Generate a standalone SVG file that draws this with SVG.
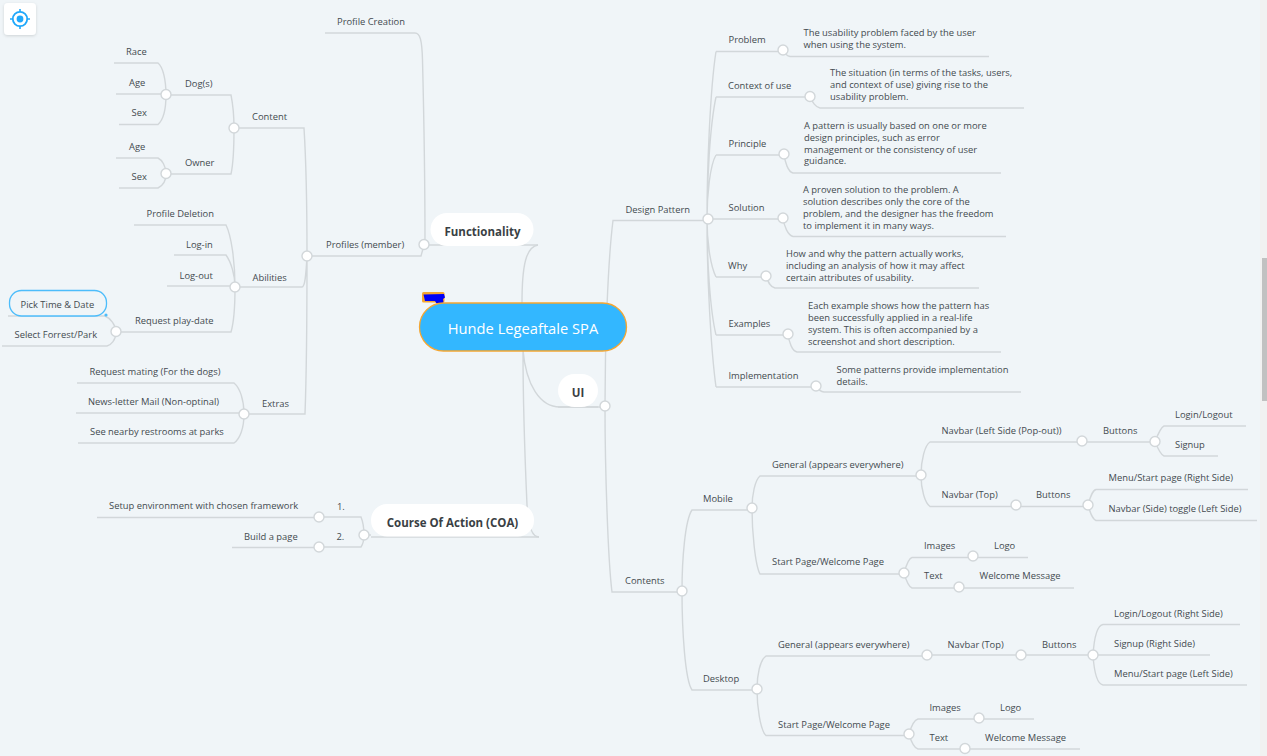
<svg xmlns="http://www.w3.org/2000/svg" width="1267" height="756" viewBox="0 0 1267 756">
<style>
text{font-family:"Open Sans","Noto Sans","Liberation Sans",sans-serif;font-size:9.4px;fill:#444b50}
.b{font-size:11.5px;font-weight:700;fill:#3a3f44;text-anchor:middle}
.c path{fill:none;stroke:#d2d7da;stroke-width:1.4}
circle.d{fill:#fff;stroke:#d2d7da;stroke-width:1.4}
.p{fill:#fff}
</style>
<defs><filter id="s" x="-30%" y="-30%" width="160%" height="160%"><feDropShadow dx="0" dy="1" stdDeviation="1.5" flood-color="#000" flood-opacity=".14"/></filter></defs>
<rect width="1267" height="756" fill="#f0f5f8"/>
<rect x="1260" width="7" height="756" fill="#f1f1f1"/>
<rect x="1262" y="258" width="5" height="143" fill="#c1c1c1"/>
<g id="locate">
<rect x="4" y="3" width="32" height="32" rx="4" fill="#fff" filter="url(#s)"/>
<circle cx="20" cy="19" r="7.2" fill="none" stroke="#1fa8fb" stroke-width="1.8"/>
<circle cx="20" cy="19" r="3.4" fill="#1fa8fb"/>
<path d="M20 9v3M20 26v3M10 19h3M27 19h3" stroke="#1fa8fb" stroke-width="1.6" fill="none"/>
</g>
<g class="c" id="connectors">
<path d="M538 245C526 247 522 265 522 303M539 537C532 537 528 525 527 505C525 460 523 400 523 350M523 350C526 385 540 407 560 407H605"/>
<path d="M371 537H539M424 245H538M558 407H598"/>
<path d="M325 33H415C420 33 422 40 422.500 60C424 120 425 190 425 245M307 256H421L424 245"/>
<path d="M234 128H304C306 160 307 220 307 256M235 287H302C305 287 306 275 307 256M244 414H305C307 360 307 300 307 256"/>
<path d="M166 95H231C233 105 234 115 234 128M166 174H231C233 165 234 150 234 128"/>
<path d="M114 63H158C163 67 166 80 166 95M116 94H166M119 124.500H158C163 120 166 110 166 95M116 158H158C162 160 166 166 166 174M119 188H158C162 186 166 182 166 174"/>
<path d="M134 225H226C231 235 235 260 235 287M174 255H226C231 262 235 275 235 287M167 286H235M116 332H231C234 322 235 305 235 287"/>
<path d="M8 316H105C110 318 116 325 116 332M2 346H107C111 345 116 340 116 332"/>
<path d="M77 383H234C240 388 244 400 244 414M76 413H244M78 443H234C240 439 244 428 244 414"/>
<path d="M364 535H371M319 517H361C363 522 364 528 364 535M319 547H361C363 544 364 540 364 535M97 517.500H319M232 547.500H319"/>
<path d="M605 406C605 340 608 260 613 220.500H708M605 406C605 470 608 560 612 592H682"/>
<path d="M716 51.500C710 90 707 170 707 219M716 97C710 125 707 180 707 219M716 155C710 165 707 195 707 219M708 219H783M707 219C707 240 710 265 716 277M707 219C707 260 710 310 716 335M707 219C707 280 711 350 716 387"/>
<path d="M716 51.500H783M716 97H810M716 155H784M716 277H766M716 335H788M716 387H816"/>
<path d="M783 50C785 54 787 56 790 56.500H989M810 96.500C812 102 816 107.500 820 108H1024M784 154C785 162 788 172 793 173H1001M783 218C784 226 788 235.500 793 236.500H1006M766 276C768 282 770 287 775 288H979M788 334C789 342 792 351 797 352H1001M816 386C818 389 820 391.500 824 392H1021"/>
<path d="M682 591C682 560 685 520 692 510H752M682 591C682 630 685 680 692 690H757"/>
<path d="M752 508C752 495 755 480 760 476H921M752 508C752 530 755 565 760 574H904M757 689C757 675 760 660 766 656H927M757 689C757 705 760 730 766 735.500H909"/>
<path d="M921 475C921 460 925 445 930 442H1155M921 475C921 490 925 503 930 506.500H1088"/>
<path d="M1155 441.500C1158 434 1161 427 1164 426H1246M1155 441.500C1158 449 1161 455 1164 456H1218M1088 505C1090 498 1092 490.500 1096 489.500H1248M1088 505C1090 512 1092 519 1096 520.500H1257"/>
<path d="M904 573C906 566 909 558 912 557.500H1028M904 573C906 580 909 587 912 588H1074M909 734C911 727 914 720 918 719H1034M909 734C911 741 914 748 918 749H1080"/>
<path d="M927 655H1093H1210M1093 655C1094 640 1097 625.500 1103 624.500H1240M1093 655C1094 670 1097 684 1103 685H1247"/>
</g>
<g id="tag"><rect x="422" y="292" width="22.500" height="10.500" rx="1.500" fill="#f5a631"/><path d="M423.500 294.500L444 294l1 3.500-2 1.500 0.500 4-7 0.500-1.500-2.500-10 0z" fill="#0000f5"/></g>
<g id="root"><rect x="419.500" y="303" width="207" height="48" rx="24" fill="#33b7ff" stroke="#f5a631" stroke-width="1.300"/><text x="523" y="334" style="font-size:14.700px;fill:#fff" text-anchor="middle">Hunde Legeaftale SPA</text></g>
<g id="functionality"><rect class="p" x="430.500" y="213" width="103" height="33" rx="16.500"/><text class="b" x="482.500" y="236">Functionality</text></g>
<g id="ui"><rect class="p" x="558" y="374" width="40" height="33" rx="16.500"/><text class="b" x="578" y="397">UI</text></g>
<g id="coa"><rect class="p" x="371" y="504" width="163" height="32.500" rx="16"/><text class="b" x="452.500" y="527">Course Of Action (COA)</text></g>
<g id="n1"><text x="337" y="25">Profile Creation</text></g>
<g id="n2"><circle class="d" cx="424" cy="244.500" r="5"/><text x="326" y="248">Profiles (member)</text></g>
<g id="n3"><circle class="d" cx="307" cy="256" r="5"/></g>
<g id="n4"><circle class="d" cx="234" cy="128" r="5"/><text x="252" y="120">Content</text></g>
<g id="n5"><circle class="d" cx="166" cy="94.500" r="5"/><text x="185" y="87">Dog(s)</text></g>
<g id="n6"><circle class="d" cx="166" cy="173.500" r="5"/><text x="185" y="166">Owner</text></g>
<g id="n7"><text x="126" y="55">Race</text></g>
<g id="n8"><text x="129" y="85.500">Age</text></g>
<g id="n9"><text x="131.500" y="116">Sex</text></g>
<g id="n10"><text x="129" y="150">Age</text></g>
<g id="n11"><text x="131.500" y="180">Sex</text></g>
<g id="n12"><circle class="d" cx="235" cy="287" r="5"/><text x="252.500" y="281">Abilities</text></g>
<g id="n13"><text x="146.500" y="217">Profile Deletion</text></g>
<g id="n14"><text x="186" y="247.500">Log-in</text></g>
<g id="n15"><text x="179.500" y="278.500">Log-out</text></g>
<g id="n16"><circle class="d" cx="116" cy="331.500" r="5"/><text x="135" y="324">Request play-date</text></g>
<g id="n17"><rect x="9.500" y="290.500" width="97" height="25.500" rx="12" fill="#f0f5f8" stroke="#4dbdfb" stroke-width="1.300"/><circle cx="106" cy="315" r="1.600" fill="#4dbdfb"/><text x="20.500" y="308">Pick Time &amp; Date</text></g>
<g id="n18"><text x="14.500" y="338">Select Forrest/Park</text></g>
<g id="n19"><circle class="d" cx="244" cy="414" r="5"/><text x="262" y="407">Extras</text></g>
<g id="n20"><text x="89.500" y="375">Request mating (For the dogs)</text></g>
<g id="n21"><text x="88" y="405">News-letter Mail (Non-optinal)</text></g>
<g id="n22"><text x="90" y="435">See nearby restrooms at parks</text></g>
<g id="n23"><circle class="d" cx="364" cy="535" r="5"/></g>
<g id="n24"><circle class="d" cx="319" cy="517" r="5"/><text x="337" y="509.500">1.</text></g>
<g id="n25"><circle class="d" cx="319" cy="547" r="5"/><text x="336.500" y="540">2.</text></g>
<g id="n26"><text x="109" y="509">Setup environment with chosen framework</text></g>
<g id="n27"><text x="244" y="540">Build a page</text></g>
<g id="n28"><circle class="d" cx="605" cy="406" r="5"/></g>
<g id="n29"><circle class="d" cx="708" cy="219" r="5"/><text x="625.500" y="213">Design Pattern</text></g>
<g id="n30"><circle class="d" cx="682" cy="591" r="5"/><text x="625" y="584">Contents</text></g>
<g id="n31"><circle class="d" cx="783" cy="50" r="5"/><text x="728.500" y="43">Problem</text></g>
<g id="n32"><text x="803.500" y="36">The usability problem faced by the user</text><text x="803.500" y="48">when using the system.</text></g>
<g id="n33"><circle class="d" cx="810" cy="96.500" r="5"/><text x="728" y="89">Context of use</text></g>
<g id="n34"><text x="830" y="76">The situation (in terms of the tasks, users,</text><text x="830" y="88">and context of use) giving rise to the</text><text x="830" y="100">usability problem.</text></g>
<g id="n35"><circle class="d" cx="784" cy="154" r="5"/><text x="728.500" y="147">Principle</text></g>
<g id="n36"><text x="804" y="129">A pattern is usually based on one or more</text><text x="804" y="141">design principles, such as error</text><text x="804" y="152.500">management or the consistency of user</text><text x="804" y="164">guidance.</text></g>
<g id="n37"><circle class="d" cx="783" cy="218" r="5"/><text x="728.500" y="211">Solution</text></g>
<g id="n38"><text x="803" y="192.500">A proven solution to the problem. A</text><text x="803" y="204.500">solution describes only the core of the</text><text x="803" y="216.500">problem, and the designer has the freedom</text><text x="803" y="228.500">to implement it in many ways.</text></g>
<g id="n39"><circle class="d" cx="766" cy="276" r="5"/><text x="728" y="269">Why</text></g>
<g id="n40"><text x="786" y="256.500">How and why the pattern actually works,</text><text x="786" y="268.500">including an analysis of how it may affect</text><text x="786" y="280.500">certain attributes of usability.</text></g>
<g id="n41"><circle class="d" cx="788" cy="334" r="5"/><text x="728.500" y="327">Examples</text></g>
<g id="n42"><text x="808" y="309">Each example shows how the pattern has</text><text x="808" y="320.500">been successfully applied in a real-life</text><text x="808" y="332.500">system. This is often accompanied by a</text><text x="808" y="344.500">screenshot and short description.</text></g>
<g id="n43"><circle class="d" cx="816" cy="386" r="5"/><text x="728.500" y="379">Implementation</text></g>
<g id="n44"><text x="836.500" y="372.500">Some patterns provide implementation</text><text x="836.500" y="384.500">details.</text></g>
<g id="n45"><circle class="d" cx="752" cy="508" r="5"/><text x="703" y="502">Mobile</text></g>
<g id="n46"><circle class="d" cx="757" cy="689" r="5"/><text x="703" y="682">Desktop</text></g>
<g id="n47"><circle class="d" cx="921" cy="475" r="5"/><text x="772" y="468">General (appears everywhere)</text></g>
<g id="n48"><circle class="d" cx="904" cy="573" r="5"/><text x="772" y="565">Start Page/Welcome Page</text></g>
<g id="n49"><circle class="d" cx="1082" cy="441" r="5"/><text x="941.500" y="434">Navbar (Left Side (Pop-out))</text></g>
<g id="n50"><circle class="d" cx="1155" cy="441.500" r="5"/><text x="1103" y="434">Buttons</text></g>
<g id="n51"><text x="1175" y="418">Login/Logout</text></g>
<g id="n52"><text x="1175" y="448">Signup</text></g>
<g id="n53"><circle class="d" cx="1016" cy="505" r="5"/><text x="941.500" y="498">Navbar (Top)</text></g>
<g id="n54"><circle class="d" cx="1088" cy="505" r="5"/><text x="1036" y="498">Buttons</text></g>
<g id="n55"><text x="1108.500" y="481">Menu/Start page (Right Side)</text></g>
<g id="n56"><text x="1108.500" y="512">Navbar (Side) toggle (Left Side)</text></g>
<g id="n57"><circle class="d" cx="973" cy="556" r="5"/><text x="924" y="549">Images</text></g>
<g id="n58"><text x="994" y="549">Logo</text></g>
<g id="n59"><circle class="d" cx="959" cy="587" r="5"/><text x="924" y="579">Text</text></g>
<g id="n60"><text x="979.500" y="579">Welcome Message</text></g>
<g id="n61"><circle class="d" cx="927" cy="655" r="5"/><text x="778" y="648">General (appears everywhere)</text></g>
<g id="n62"><circle class="d" cx="909" cy="734" r="5"/><text x="778" y="727.500">Start Page/Welcome Page</text></g>
<g id="n63"><circle class="d" cx="1021" cy="655" r="5"/><text x="947.500" y="648">Navbar (Top)</text></g>
<g id="n64"><circle class="d" cx="1093" cy="655" r="5"/><text x="1042" y="648">Buttons</text></g>
<g id="n65"><text x="1114" y="617">Login/Logout (Right Side)</text></g>
<g id="n66"><text x="1114" y="647">Signup (Right Side)</text></g>
<g id="n67"><text x="1114" y="677">Menu/Start page (Left Side)</text></g>
<g id="n68"><circle class="d" cx="979" cy="718" r="5"/><text x="929.500" y="711">Images</text></g>
<g id="n69"><text x="1000" y="711">Logo</text></g>
<g id="n70"><circle class="d" cx="965" cy="748.500" r="5"/><text x="929.500" y="741">Text</text></g>
<g id="n71"><text x="985" y="741">Welcome Message</text></g>
</svg>
